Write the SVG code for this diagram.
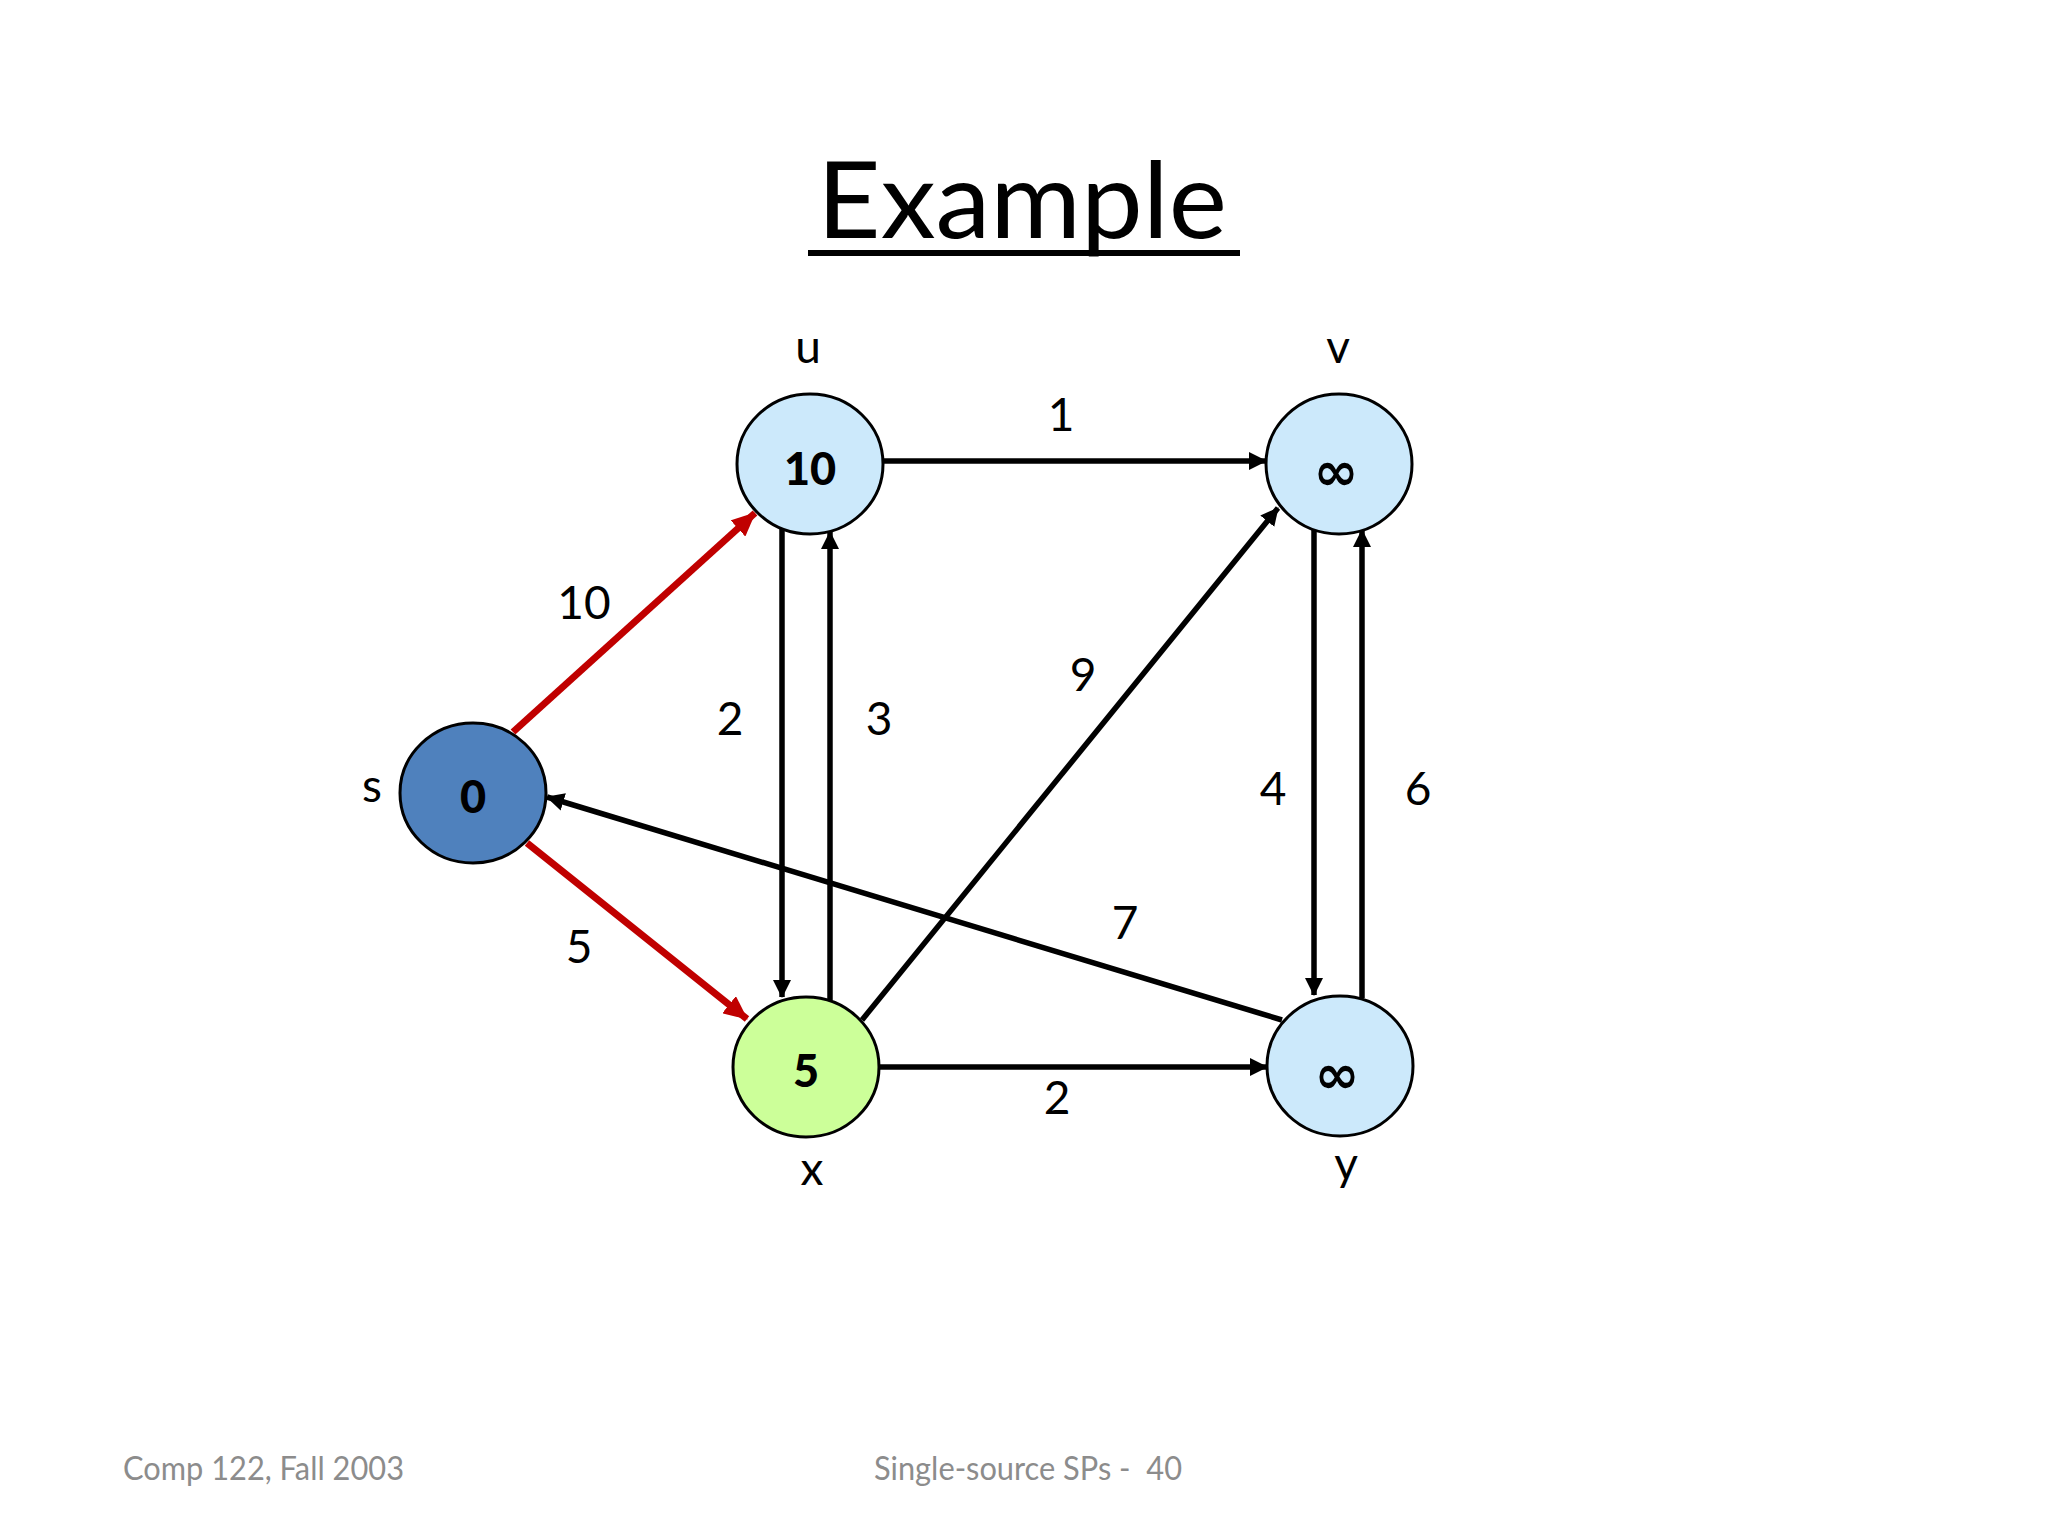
<svg xmlns="http://www.w3.org/2000/svg" width="2048" height="1536" viewBox="0 0 2048 1536">
<defs>
<style>
.t{font-family:Lato,"Open Sans","Liberation Sans",sans-serif;fill:#000}
.lbl{font-size:46px;text-anchor:middle}
.num{font-size:45px;font-weight:900;text-anchor:middle}
.inf{font-family:"DejaVu Sans",sans-serif;font-size:54px;font-weight:bold;text-anchor:middle;fill:#000}
.node{stroke:#000;stroke-width:3}
.blk{stroke:#000;stroke-width:5.5;fill:none}
.red{stroke:#c00000;stroke-width:7;fill:none}
.foot{font-family:Lato,"Open Sans","Liberation Sans",sans-serif;font-size:33px;fill:#8c8c8c}
</style>
<marker id="ab" viewBox="0 0 18 18" refX="17" refY="9" markerWidth="18" markerHeight="18" markerUnits="userSpaceOnUse" orient="auto"><path d="M0,0 L18,9 L0,18 Z" fill="#000"/></marker>
<marker id="ar" viewBox="0 0 24 22" refX="23" refY="11" markerWidth="24" markerHeight="22" markerUnits="userSpaceOnUse" orient="auto"><path d="M0,0 L24,11 L0,22 Z" fill="#c00000"/></marker>
</defs>
<rect width="2048" height="1536" fill="#fff"/>
<g id="title">
<text class="t" x="1022" y="238" font-size="106" text-anchor="middle" textLength="410" lengthAdjust="spacingAndGlyphs">Example</text>
<rect x="808" y="250" width="432" height="6" fill="#000"/>
</g>
<g id="connectors">
<line class="blk" x1="883" y1="461" x2="1266" y2="461" marker-end="url(#ab)"/>
<line class="blk" x1="879" y1="1067" x2="1267" y2="1067" marker-end="url(#ab)"/>
<line class="blk" x1="782" y1="528" x2="782" y2="997" marker-end="url(#ab)"/>
<line class="blk" x1="830" y1="1000" x2="830" y2="532" marker-end="url(#ab)"/>
<line class="blk" x1="1314" y1="526" x2="1314" y2="995" marker-end="url(#ab)"/>
<line class="blk" x1="1362" y1="998" x2="1362" y2="530" marker-end="url(#ab)"/>
<line class="blk" x1="862" y1="1020" x2="1278" y2="508" marker-end="url(#ab)"/>
<line class="blk" x1="1282" y1="1020" x2="547" y2="797" marker-end="url(#ab)"/>
<line class="red" x1="513" y1="732" x2="755" y2="513" marker-end="url(#ar)"/>
<line class="red" x1="527" y1="843" x2="747" y2="1019" marker-end="url(#ar)"/>
</g>
<g id="edge-labels">
<text class="t lbl" x="1061" y="431">1</text>
<text class="t lbl" x="584" y="619">10</text>
<text class="t lbl" x="730" y="735">2</text>
<text class="t lbl" x="879" y="735">3</text>
<text class="t lbl" x="1083" y="691">9</text>
<text class="t lbl" x="1273" y="805">4</text>
<text class="t lbl" x="1418" y="805">6</text>
<text class="t lbl" x="1125" y="939">7</text>
<text class="t lbl" x="579" y="963">5</text>
<text class="t lbl" x="1057" y="1114">2</text>
</g>
<g id="node-s">
<ellipse class="node" cx="473" cy="793" rx="73" ry="70" fill="#4f81bd"/>
<text class="t num" x="473" y="813">0</text>
<text class="t lbl" x="372" y="802">s</text>
</g>
<g id="node-u">
<ellipse class="node" cx="810" cy="464" rx="73" ry="70" fill="#cce9fb"/>
<text class="t num" x="810" y="485">10</text>
<text class="t lbl" x="808" y="363">u</text>
</g>
<g id="node-v">
<ellipse class="node" cx="1339" cy="464" rx="73" ry="70" fill="#cce9fb"/>
<text class="inf" x="1336" y="490">∞</text>
<text class="t lbl" x="1338" y="363">v</text>
</g>
<g id="node-x">
<ellipse class="node" cx="806" cy="1067" rx="73" ry="70" fill="#ccff99"/>
<text class="t num" x="806" y="1087">5</text>
<text class="t lbl" x="812" y="1185">x</text>
</g>
<g id="node-y">
<ellipse class="node" cx="1340" cy="1066" rx="73" ry="70" fill="#cce9fb"/>
<text class="inf" x="1337" y="1093">∞</text>
<text class="t lbl" x="1346" y="1180">y</text>
</g>
<g id="footer">
<text class="foot" x="123" y="1480" textLength="281" lengthAdjust="spacingAndGlyphs">Comp 122, Fall 2003</text>
<text class="foot" x="874" y="1480" textLength="308" lengthAdjust="spacingAndGlyphs" xml:space="preserve">Single-source SPs -  40</text>
</g>
</svg>
